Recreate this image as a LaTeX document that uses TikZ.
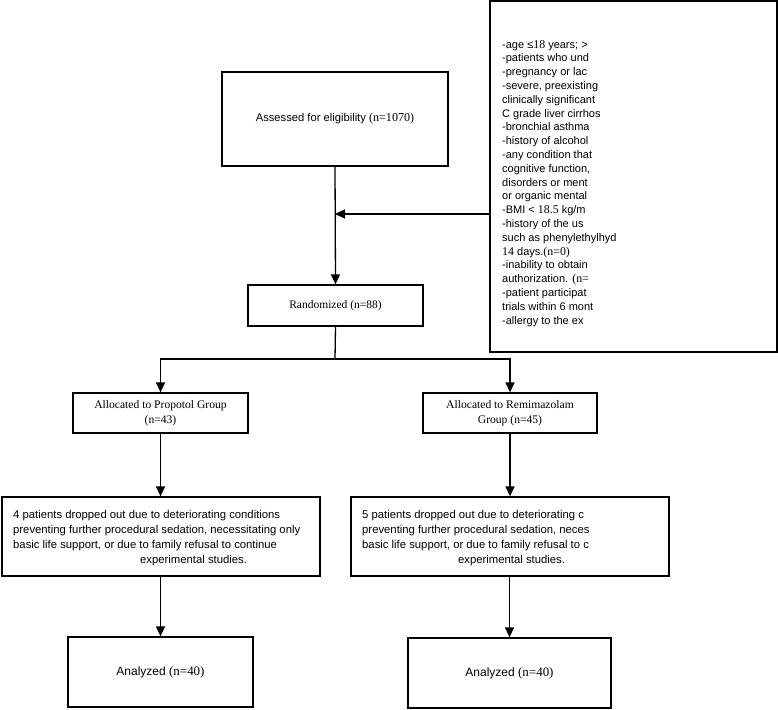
\documentclass[tikz,border=0pt]{standalone}
\usepackage{fontspec}
\setmainfont{Liberation Sans}
\newfontfamily\tnr{Liberation Serif}
\newfontfamily\tnrin[Scale=1.08]{Liberation Serif}
\usetikzlibrary{arrows.meta}
\begin{document}
\begin{tikzpicture}[x=1pt,y=-1pt,
  box/.style={draw,line width=1.3pt,inner sep=0pt,align=center},
  arr/.style={line width=1.3pt,-{Triangle[length=10pt,width=9pt]}},
  ln/.style={line width=1.3pt},
  txt/.style={anchor=north west,inner sep=0pt,align=left},
  sert/.style={font=\tnr\fontsize{11.6}{15}\selectfont}]
\useasboundingbox (0,0) rectangle (778,709);
\node[box,font=\fontsize{11.2}{15}\selectfont,minimum width=226pt,minimum height=94pt] (assess) at (335,119) {Assessed for eligibility {\tnrin(n=1070)}};
\node[box,minimum width=287pt,minimum height=351pt] (excl) at (633.5,176.5) {};
\node[txt,font=\fontsize{11}{13.8}\selectfont] (excltext) at (502,40) {-age ≤{\tnrin18} years; >\\
-patients who und\\
-pregnancy or lac\\
-severe, preexisting\\
clinically significant\\
C grade liver cirrhos\\
-bronchial asthma\\
-history of alcohol\\
-any condition that\\
cognitive function,\\
disorders or ment\\
or organic mental\\
-BMI < {\tnrin18.5} kg/m\\
-history of the us\\
such as phenylethylhyd\\
{\tnrin14} days.{\tnrin(n=0)}\\
-inability to obtain\\
authorization. {\tnrin(n=}\\
-patient participat\\
trials within 6 mont\\
-allergy to the ex};
\node[box,font=\tnr\fontsize{11.5}{15}\selectfont,minimum width=175pt,minimum height=41pt] (rand) at (335.5,305.5) {Randomized (n=88)};
\node[box,sert,minimum width=175pt,minimum height=40pt] (alloc1) at (160.5,413) {Allocated to Propotol Group\\(n=43)};
\node[box,sert,minimum width=174pt,minimum height=40pt] (alloc2) at (510,413) {Allocated to Remimazolam\\Group (n=45)};
\node[box,minimum width=318pt,minimum height=79pt] (drop1) at (161,536.5) {};
\node[box,minimum width=318pt,minimum height=79pt] (drop2) at (510,536.5) {};
\node[txt,font=\fontsize{11.3}{15}\selectfont] (drop1text) at (13,510) {4 patients dropped out due to deteriorating conditions\\
preventing further procedural sedation, necessitating only\\
basic life support, or due to family refusal to continue\\
\hspace*{127pt}experimental studies.};
\node[txt,font=\fontsize{11.3}{15}\selectfont] (drop2text) at (362,510) {5 patients dropped out due to deteriorating c\\
preventing further procedural sedation, neces\\
basic life support, or due to family refusal to c\\
\hspace*{96pt}experimental studies.};
\node[box,font=\fontsize{12}{15}\selectfont,minimum width=185pt,minimum height=70pt] (an1) at (160.5,672) {Analyzed {\tnrin(n=40)}};
\node[box,font=\fontsize{12}{15}\selectfont,minimum width=203pt,minimum height=70pt] (an2) at (509.5,673) {Analyzed {\tnrin(n=40)}};
\coordinate (j) at (335,214);
\coordinate (split) at (335,359);
\draw[arr] (assess.south) -- (rand.north);
\draw[arr] (excl.west |- j) -- (j);
\draw[ln] (rand.south) -- (split);
\draw[arr] (split) -| (alloc1.north);
\draw[arr] (split) -| (alloc2.north);
\draw[arr] (alloc1.south) -- (drop1.north -| alloc1.south);
\draw[arr] (alloc2.south) -- (drop2.north -| alloc2.south);
\draw[arr] (drop1.south -| an1.north) -- (an1.north);
\draw[arr] (drop2.south -| an2.north) -- (an2.north);
\end{tikzpicture}
\end{document}
